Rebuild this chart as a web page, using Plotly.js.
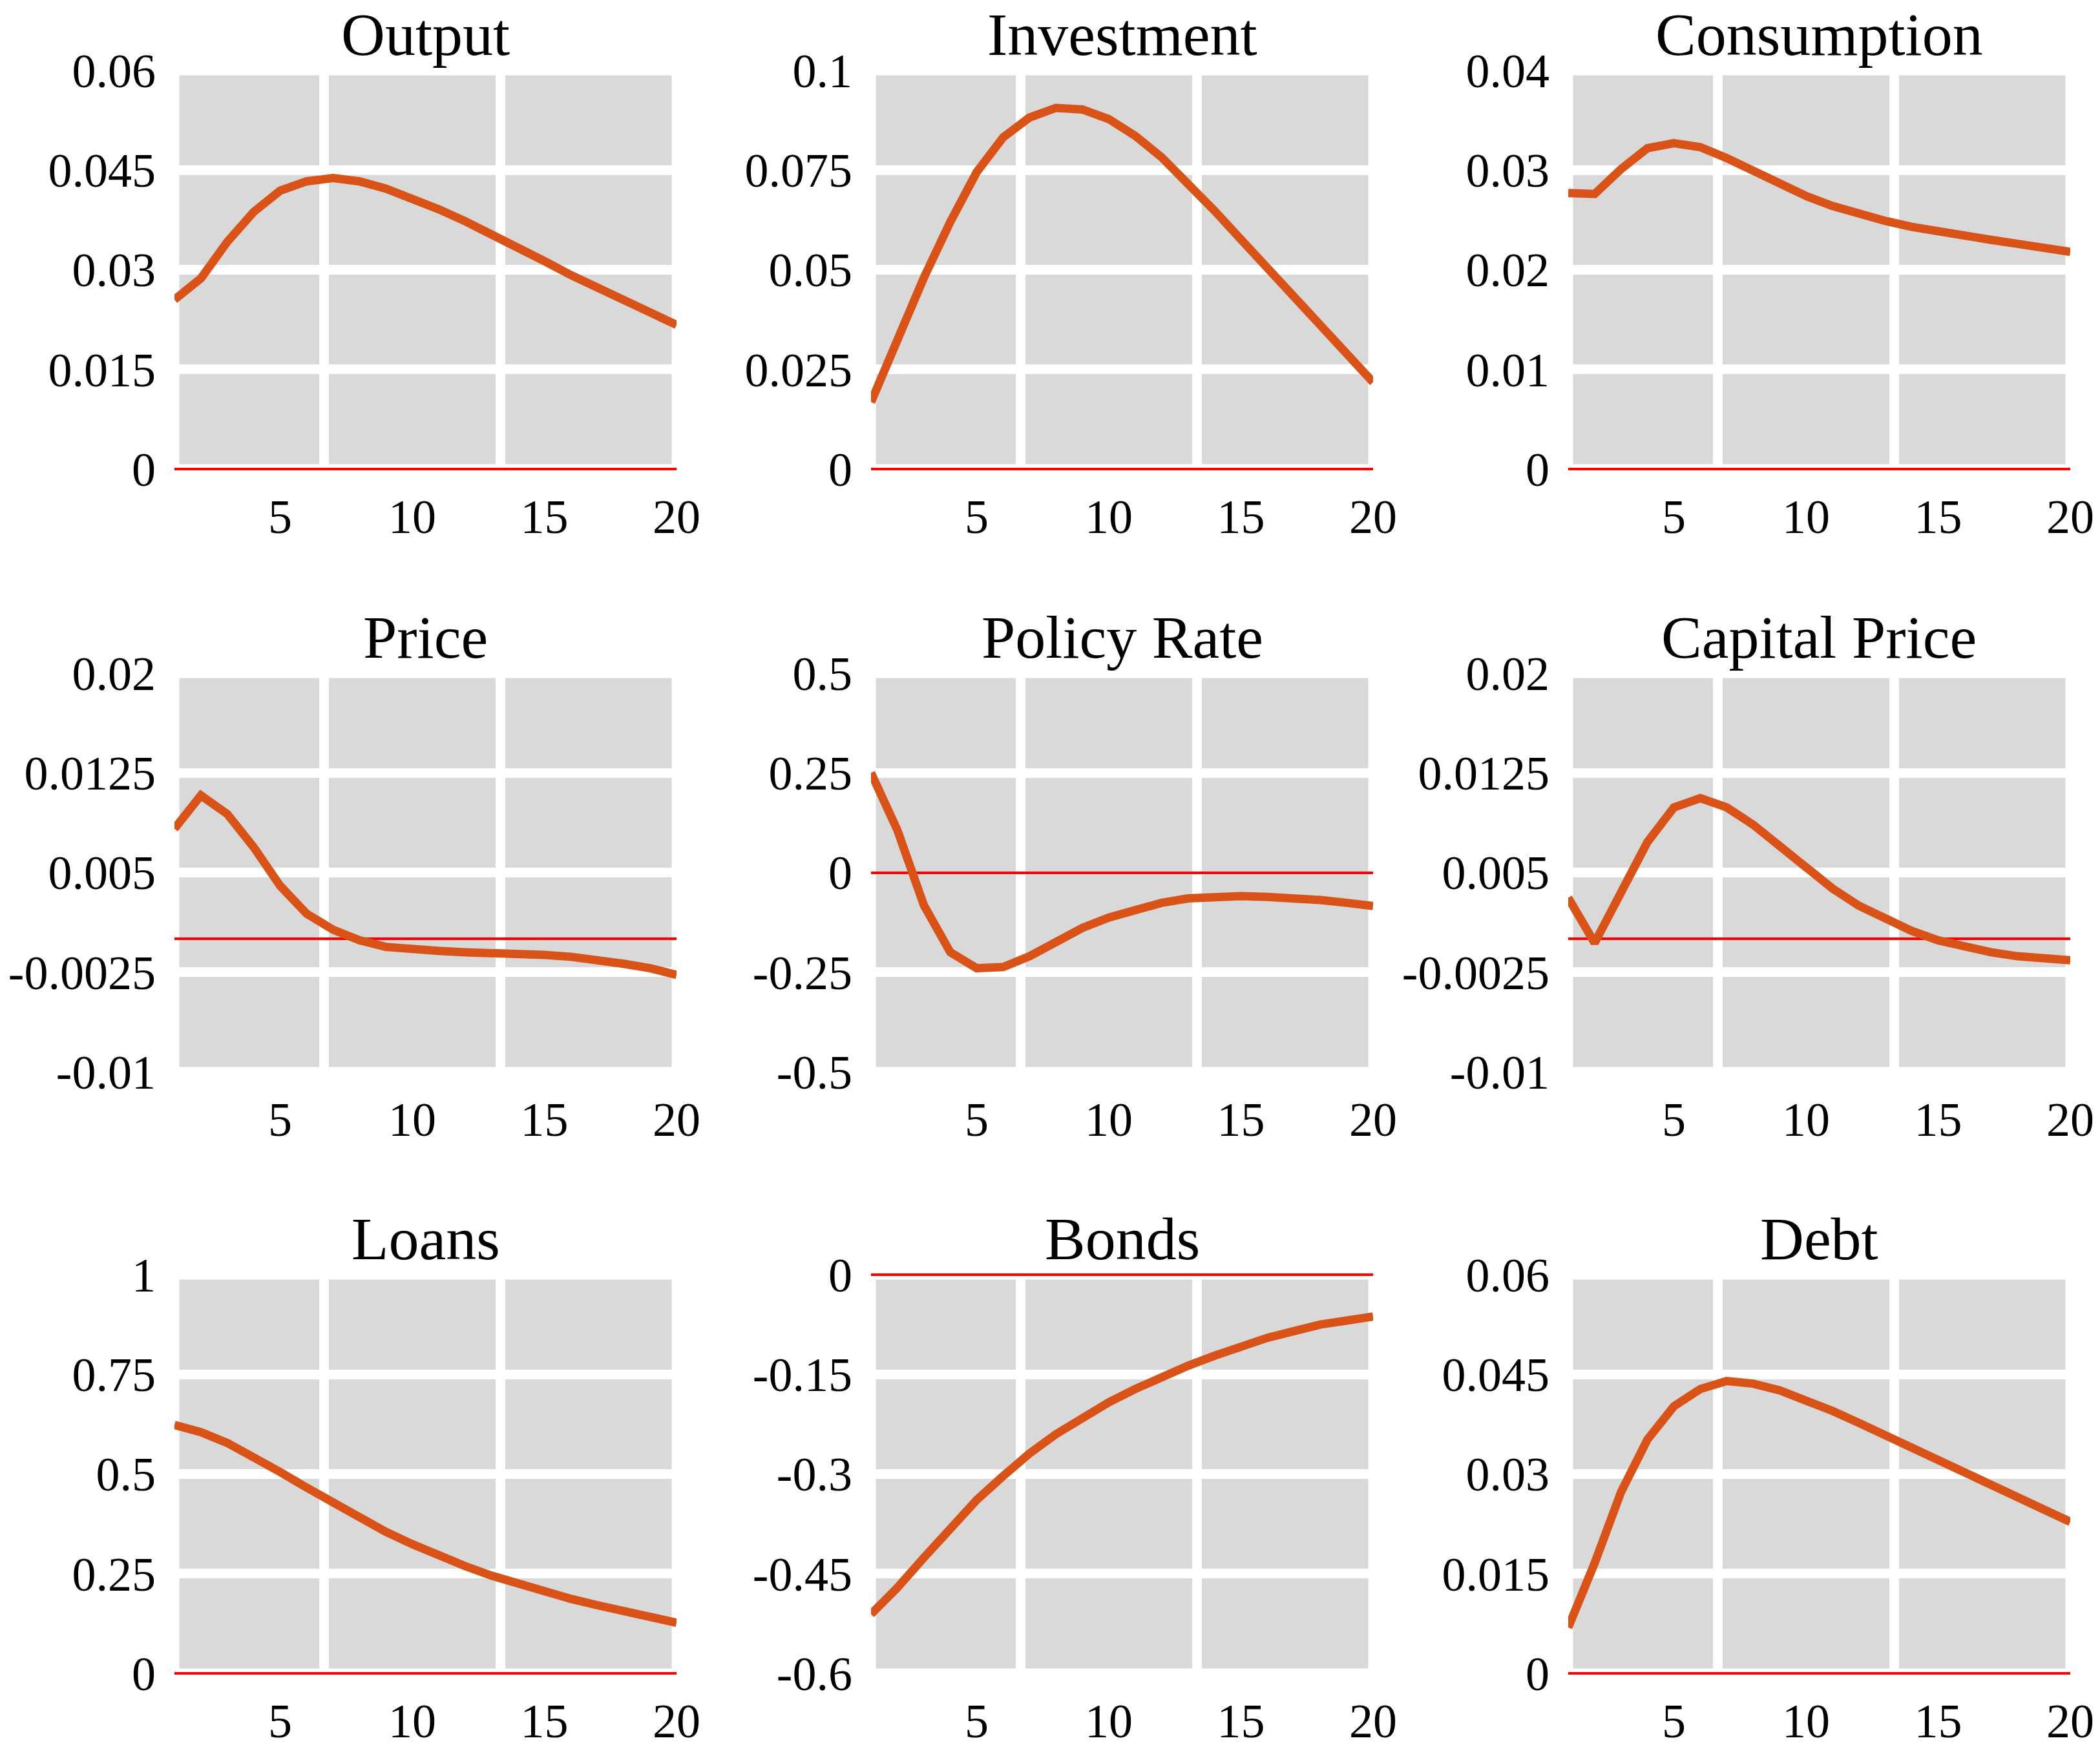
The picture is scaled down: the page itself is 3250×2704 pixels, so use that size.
<!DOCTYPE html>
<html><head><meta charset="utf-8">
<script src="https://cdn.plot.ly/plotly-3.0.1.min.js"></script>
<style>html,body{margin:0;padding:0;background:#fff}</style>
</head><body>
<div id="chart" style="width:3250px;height:2704px"></div>
<script>
// ---- data ----
const periods = [1,2,3,4,5,6,7,8,9,10,11,12,13,14,15,16,17,18,19,20];
const panelTitles = ['Output','Investment','Consumption','Price','Policy Rate','Capital Price','Loans','Bonds','Debt'];

const output      = [0.0255,0.0287,0.0342,0.0387,0.0419,0.0433,0.0438,0.0433,0.0422,0.0407,0.0391,0.0373,0.0354,0.0335,0.0313,0.0292,0.0273,0.0254,0.0235,0.0217];
const investment  = [0.0168,0.0325,0.0480,0.0620,0.0745,0.0832,0.0882,0.0906,0.0902,0.0878,0.0836,0.0782,0.0718,0.0648,0.0576,0.0504,0.0432,0.0362,0.0292,0.0218];
const consumption = [0.0277,0.0276,0.0301,0.0322,0.0327,0.0323,0.0312,0.0299,0.0286,0.0274,0.0264,0.0256,0.0249,0.0243,0.0238,0.0234,0.0230,0.0226,0.0222,0.0218];
const price       = [0.0083,0.0108,0.0094,0.0069,0.0040,0.0019,0.0007,-0.0001,-0.0006,-0.0008,-0.0009,-0.0010,-0.00103,-0.0011,-0.0012,-0.00134,-0.00156,-0.00187,-0.0022,-0.0027];
const policyRate  = [0.250,0.106,-0.082,-0.200,-0.240,-0.237,-0.210,-0.173,-0.139,-0.113,-0.092,-0.076,-0.065,-0.061,-0.059,-0.061,-0.064,-0.069,-0.076,-0.084];
const capitalPrice= [0.0031,-0.0003,0.0035,0.0073,0.0099,0.0106,0.0099,0.0086,0.0070,0.0054,0.0038,0.0025,0.0015,0.0006,-0.0001,-0.0006,-0.0010,-0.0013,-0.0015,-0.0016];
const loans       = [0.623,0.605,0.578,0.543,0.505,0.466,0.428,0.390,0.355,0.324,0.295,0.269,0.245,0.224,0.205,0.187,0.171,0.156,0.141,0.127];
const bonds       = [-0.511,-0.471,-0.426,-0.381,-0.339,-0.303,-0.269,-0.240,-0.215,-0.192,-0.172,-0.154,-0.137,-0.122,-0.108,-0.095,-0.085,-0.075,-0.069,-0.063];
const debt        = [0.0069,0.0166,0.0273,0.0352,0.0402,0.0428,0.0440,0.0436,0.0426,0.0412,0.0395,0.0377,0.0358,0.0339,0.0320,0.0302,0.0282,0.0264,0.0246,0.0228];

const xTickVals = [5,10,15,20];
const xTickText = ['5','10','15','20'];

const yTickVals = [
  [0,0.015,0.03,0.045,0.06],
  [0,0.025,0.05,0.075,0.1],
  [0,0.01,0.02,0.03,0.04],
  [-0.01,-0.0025,0.005,0.0125,0.02],
  [-0.5,-0.25,0,0.25,0.5],
  [-0.01,-0.0025,0.005,0.0125,0.02],
  [0,0.25,0.5,0.75,1],
  [-0.6,-0.45,-0.3,-0.15,0],
  [0,0.015,0.03,0.045,0.06]
];
const yTickText = [
  ['0','0.015','0.03','0.045','0.06'],
  ['0','0.025','0.05','0.075','0.1'],
  ['0','0.01','0.02','0.03','0.04'],
  ['-0.01','-0.0025','0.005','0.0125','0.02'],
  ['-0.5','-0.25','0','0.25','0.5'],
  ['-0.01','-0.0025','0.005','0.0125','0.02'],
  ['0','0.25','0.5','0.75','1'],
  ['-0.6','-0.45','-0.3','-0.15','0'],
  ['0','0.015','0.03','0.045','0.06']
];
const seriesList = [output,investment,consumption,price,policyRate,capitalPrice,loans,bonds,debt];

// ---- layout helpers (style / positions) ----
const W = 3250, H = 2704;
const colPx = [[270,1047],[1348,2125],[2427,3204]];
const rowPx = [[109,726],[1042,1659],[1973,2590]];
const vGrid = [20/3, 40/3];
const lineColor = '#D95319';
const zeroColor = '#ff0000';
const font = '"Liberation Serif", "Times New Roman", serif';

const data = [];
const layout = {
  width: W, height: H,
  margin: {l:0, r:0, t:0, b:0},
  paper_bgcolor: '#ffffff',
  plot_bgcolor: '#d9d9d9',
  showlegend: false,
  font: {family: font, size: 74, color: '#000000'},
  annotations: [],
  shapes: []
};

for (let i = 0; i < 9; i++) {
  const r = Math.floor(i / 3), c = i % 3;
  const xn = i === 0 ? 'x' : 'x' + (i + 1);
  const yn = i === 0 ? 'y' : 'y' + (i + 1);
  const xk = i === 0 ? 'xaxis' : 'xaxis' + (i + 1);
  const yk = i === 0 ? 'yaxis' : 'yaxis' + (i + 1);
  const xd = [colPx[c][0] / W, colPx[c][1] / W];
  const yd = [1 - rowPx[r][1] / H, 1 - rowPx[r][0] / H];
  const tv = yTickVals[i];
  const lo = tv[0], hi = tv[tv.length - 1];

  layout[xk] = {
    domain: xd, anchor: yn, range: [periods[0], periods[periods.length - 1]],
    tickmode: 'array', tickvals: xTickVals, ticktext: xTickText,
    ticks: '', showgrid: false, zeroline: false, showline: false,
    ticklabelstandoff: 24, fixedrange: true,
    minor: {tickmode: 'array', tickvals: vGrid, showgrid: true, gridcolor: '#ffffff', gridwidth: 15, ticks: ''}
  };
  layout[yk] = {
    domain: yd, anchor: xn, range: [lo, hi],
    tickmode: 'array', tickvals: tv, ticktext: yTickText[i],
    ticks: '', showgrid: true, gridcolor: '#ffffff', gridwidth: 15,
    zeroline: true, zerolinecolor: zeroColor, zerolinewidth: 4,
    showline: false, ticklabelstandoff: 28, fixedrange: true
  };

  // white frame around the grey area
  layout.shapes.push({
    type: 'rect', xref: xn + ' domain', yref: yn + ' domain',
    x0: 0, x1: 1, y0: 0, y1: 1, layer: 'below',
    line: {color: '#ffffff', width: 15}, fillcolor: 'rgba(0,0,0,0)'
  });
  // red zero reference line when zero sits on the frame edge (zeroline is hidden there)
  const zf = (0 - lo) / (hi - lo);
  if (zf <= 0 || zf >= 1) {
    layout.shapes.push({
      type: 'line', xref: xn + ' domain', yref: yn + ' domain',
      x0: 0, x1: 1, y0: zf, y1: zf, layer: 'above',
      line: {color: zeroColor, width: 4}
    });
  }

  layout.annotations.push({
    text: panelTitles[i], xref: 'paper', yref: 'paper',
    x: (xd[0] + xd[1]) / 2, y: yd[1], xanchor: 'center', yanchor: 'bottom',
    yshift: 2, showarrow: false, font: {family: font, size: 94, color: '#000000'}
  });

  data.push({
    type: 'scatter', mode: 'lines', x: periods, y: seriesList[i],
    xaxis: xn, yaxis: yn, hoverinfo: 'skip',
    line: {color: lineColor, width: 13}
  });
}

Plotly.newPlot('chart', data, layout, {staticPlot: true, displayModeBar: false});
</script>
</body></html>
